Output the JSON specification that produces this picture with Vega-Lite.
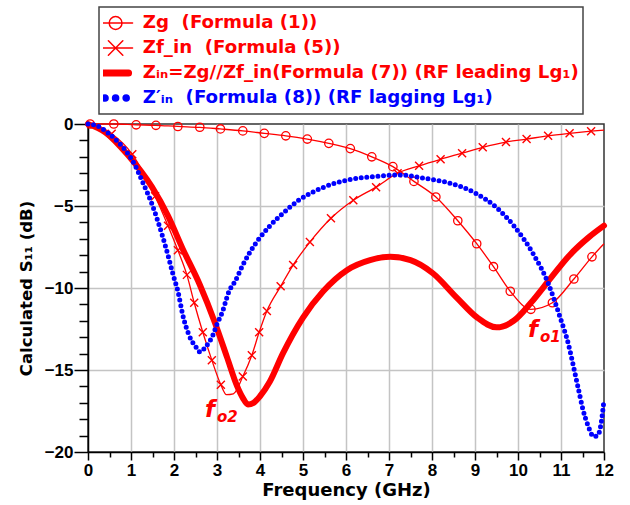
{
  "$schema": "https://vega.github.io/schema/vega-lite/v6.json",
  "width": 516,
  "height": 328,
  "autosize": {"type": "none"},
  "padding": {"left": 88, "top": 124, "right": 26, "bottom": 53},
  "background": "white",
  "config": {"view": {"stroke": "#333333", "strokeWidth": 1.5}},
  "datasets": {
    "curves": [
      {"s": "Zg", "f": 0.05, "db": 0, "m": 1},
      {"s": "Zg", "f": 0.6, "db": 0, "m": 1},
      {"s": "Zg", "f": 1.12, "db": -0.05, "m": 1},
      {"s": "Zg", "f": 1.58, "db": -0.08, "m": 1},
      {"s": "Zg", "f": 2.09, "db": -0.15, "m": 1},
      {"s": "Zg", "f": 2.6, "db": -0.2, "m": 1},
      {"s": "Zg", "f": 3.08, "db": -0.3, "m": 1},
      {"s": "Zg", "f": 3.6, "db": -0.42, "m": 1},
      {"s": "Zg", "f": 4.1, "db": -0.57, "m": 1},
      {"s": "Zg", "f": 4.6, "db": -0.72, "m": 1},
      {"s": "Zg", "f": 5.1, "db": -0.92, "m": 1},
      {"s": "Zg", "f": 5.6, "db": -1.18, "m": 1},
      {"s": "Zg", "f": 6.1, "db": -1.5, "m": 1},
      {"s": "Zg", "f": 6.6, "db": -2.0, "m": 1},
      {"s": "Zg", "f": 7.09, "db": -2.6, "m": 1},
      {"s": "Zg", "f": 7.58, "db": -3.5, "m": 1},
      {"s": "Zg", "f": 8.09, "db": -4.45, "m": 1},
      {"s": "Zg", "f": 8.6, "db": -5.9, "m": 1},
      {"s": "Zg", "f": 9.04, "db": -7.3, "m": 1},
      {"s": "Zg", "f": 9.43, "db": -8.7, "m": 1},
      {"s": "Zg", "f": 9.82, "db": -10.2, "m": 1},
      {"s": "Zg", "f": 10.3, "db": -11.3, "m": 1},
      {"s": "Zg", "f": 10.8, "db": -10.9, "m": 1},
      {"s": "Zg", "f": 11.3, "db": -9.45, "m": 1},
      {"s": "Zg", "f": 11.72, "db": -8.1, "m": 1},
      {"s": "Zg", "f": 12.0, "db": -7.3, "m": 0},
      {"s": "Zf", "f": 0.0, "db": 0, "m": 0},
      {"s": "Zf", "f": 0.55, "db": -0.6, "m": 1},
      {"s": "Zf", "f": 1.03, "db": -1.85, "m": 1},
      {"s": "Zf", "f": 1.56, "db": -4.4, "m": 1},
      {"s": "Zf", "f": 1.86, "db": -6.2, "m": 1},
      {"s": "Zf", "f": 2.09, "db": -7.7, "m": 1},
      {"s": "Zf", "f": 2.3, "db": -9.2, "m": 1},
      {"s": "Zf", "f": 2.47, "db": -10.9, "m": 1},
      {"s": "Zf", "f": 2.67, "db": -12.7, "m": 1},
      {"s": "Zf", "f": 2.88, "db": -14.4, "m": 1},
      {"s": "Zf", "f": 3.09, "db": -15.9, "m": 1},
      {"s": "Zf", "f": 3.22, "db": -16.5, "m": 0},
      {"s": "Zf", "f": 3.38, "db": -16.45, "m": 0},
      {"s": "Zf", "f": 3.6, "db": -15.4, "m": 1},
      {"s": "Zf", "f": 3.81, "db": -14.1, "m": 1},
      {"s": "Zf", "f": 3.98, "db": -12.7, "m": 1},
      {"s": "Zf", "f": 4.16, "db": -11.4, "m": 1},
      {"s": "Zf", "f": 4.48, "db": -9.9, "m": 1},
      {"s": "Zf", "f": 4.77, "db": -8.6, "m": 1},
      {"s": "Zf", "f": 5.16, "db": -7.2, "m": 1},
      {"s": "Zf", "f": 5.65, "db": -5.75, "m": 1},
      {"s": "Zf", "f": 6.17, "db": -4.65, "m": 1},
      {"s": "Zf", "f": 6.7, "db": -3.85, "m": 1},
      {"s": "Zf", "f": 7.2, "db": -3.0, "m": 1},
      {"s": "Zf", "f": 7.7, "db": -2.55, "m": 1},
      {"s": "Zf", "f": 8.2, "db": -2.15, "m": 1},
      {"s": "Zf", "f": 8.7, "db": -1.78, "m": 1},
      {"s": "Zf", "f": 9.18, "db": -1.42, "m": 1},
      {"s": "Zf", "f": 9.72, "db": -1.1, "m": 1},
      {"s": "Zf", "f": 10.2, "db": -0.92, "m": 1},
      {"s": "Zf", "f": 10.7, "db": -0.72, "m": 1},
      {"s": "Zf", "f": 11.2, "db": -0.57, "m": 1},
      {"s": "Zf", "f": 11.7, "db": -0.44, "m": 1},
      {"s": "Zf", "f": 12.0, "db": -0.37, "m": 0},
      {"s": "Zin", "f": 0.0, "db": 0, "m": 0},
      {"s": "Zin", "f": 0.4, "db": -0.5, "m": 0},
      {"s": "Zin", "f": 0.93, "db": -1.9, "m": 0},
      {"s": "Zin", "f": 1.49, "db": -3.85, "m": 0},
      {"s": "Zin", "f": 1.86, "db": -5.6, "m": 0},
      {"s": "Zin", "f": 2.2, "db": -7.6, "m": 0},
      {"s": "Zin", "f": 2.6, "db": -9.8, "m": 0},
      {"s": "Zin", "f": 2.95, "db": -12.1, "m": 0},
      {"s": "Zin", "f": 3.23, "db": -14.2, "m": 0},
      {"s": "Zin", "f": 3.47, "db": -16.0, "m": 0},
      {"s": "Zin", "f": 3.6, "db": -16.7, "m": 0},
      {"s": "Zin", "f": 3.72, "db": -17.1, "m": 0},
      {"s": "Zin", "f": 3.85, "db": -17.0, "m": 0},
      {"s": "Zin", "f": 4.0, "db": -16.6, "m": 0},
      {"s": "Zin", "f": 4.23, "db": -15.7, "m": 0},
      {"s": "Zin", "f": 4.53, "db": -14.0, "m": 0},
      {"s": "Zin", "f": 5.0, "db": -11.8, "m": 0},
      {"s": "Zin", "f": 5.47, "db": -10.2, "m": 0},
      {"s": "Zin", "f": 6.03, "db": -8.9, "m": 0},
      {"s": "Zin", "f": 6.56, "db": -8.3, "m": 0},
      {"s": "Zin", "f": 7.03, "db": -8.1, "m": 0},
      {"s": "Zin", "f": 7.5, "db": -8.3, "m": 0},
      {"s": "Zin", "f": 8.02, "db": -9.1, "m": 0},
      {"s": "Zin", "f": 8.58, "db": -10.6, "m": 0},
      {"s": "Zin", "f": 9.05, "db": -11.8, "m": 0},
      {"s": "Zin", "f": 9.5, "db": -12.4, "m": 0},
      {"s": "Zin", "f": 9.9, "db": -12.0, "m": 0},
      {"s": "Zin", "f": 10.3, "db": -10.9, "m": 0},
      {"s": "Zin", "f": 10.76, "db": -9.4, "m": 0},
      {"s": "Zin", "f": 11.2, "db": -8.0, "m": 0},
      {"s": "Zin", "f": 11.65, "db": -6.9, "m": 0},
      {"s": "Zin", "f": 12.0, "db": -6.2, "m": 0},
      {"s": "Zinp", "f": 0.0, "db": 0, "m": 0},
      {"s": "Zinp", "f": 0.16, "db": -0.06, "m": 0},
      {"s": "Zinp", "f": 0.47, "db": -0.55, "m": 0},
      {"s": "Zinp", "f": 0.7, "db": -1.1, "m": 0},
      {"s": "Zinp", "f": 0.9, "db": -1.7, "m": 0},
      {"s": "Zinp", "f": 1.09, "db": -2.5, "m": 0},
      {"s": "Zinp", "f": 1.28, "db": -3.6, "m": 0},
      {"s": "Zinp", "f": 1.49, "db": -4.9, "m": 0},
      {"s": "Zinp", "f": 1.67, "db": -6.3, "m": 0},
      {"s": "Zinp", "f": 1.86, "db": -8.0, "m": 0},
      {"s": "Zinp", "f": 1.98, "db": -9.2, "m": 0},
      {"s": "Zinp", "f": 2.1, "db": -10.3, "m": 0},
      {"s": "Zinp", "f": 2.2, "db": -11.6, "m": 0},
      {"s": "Zinp", "f": 2.37, "db": -13.0, "m": 0},
      {"s": "Zinp", "f": 2.51, "db": -13.6, "m": 0},
      {"s": "Zinp", "f": 2.6, "db": -13.9, "m": 0},
      {"s": "Zinp", "f": 2.7, "db": -13.7, "m": 0},
      {"s": "Zinp", "f": 2.79, "db": -13.4, "m": 0},
      {"s": "Zinp", "f": 2.9, "db": -12.9, "m": 0},
      {"s": "Zinp", "f": 3.0, "db": -12.2, "m": 0},
      {"s": "Zinp", "f": 3.12, "db": -11.5, "m": 0},
      {"s": "Zinp", "f": 3.28, "db": -10.2, "m": 0},
      {"s": "Zinp", "f": 3.42, "db": -9.6, "m": 0},
      {"s": "Zinp", "f": 3.6, "db": -8.6, "m": 0},
      {"s": "Zinp", "f": 3.77, "db": -7.8, "m": 0},
      {"s": "Zinp", "f": 4.2, "db": -6.3, "m": 0},
      {"s": "Zinp", "f": 4.51, "db": -5.5, "m": 0},
      {"s": "Zinp", "f": 4.9, "db": -4.65, "m": 0},
      {"s": "Zinp", "f": 5.44, "db": -3.9, "m": 0},
      {"s": "Zinp", "f": 6.07, "db": -3.4, "m": 0},
      {"s": "Zinp", "f": 6.7, "db": -3.2, "m": 0},
      {"s": "Zinp", "f": 7.2, "db": -3.1, "m": 0},
      {"s": "Zinp", "f": 7.8, "db": -3.3, "m": 0},
      {"s": "Zinp", "f": 8.4, "db": -3.6, "m": 0},
      {"s": "Zinp", "f": 9.0, "db": -4.2, "m": 0},
      {"s": "Zinp", "f": 9.5, "db": -5.1, "m": 0},
      {"s": "Zinp", "f": 9.9, "db": -6.2, "m": 0},
      {"s": "Zinp", "f": 10.35, "db": -7.9, "m": 0},
      {"s": "Zinp", "f": 10.7, "db": -9.7, "m": 0},
      {"s": "Zinp", "f": 10.98, "db": -11.8, "m": 0},
      {"s": "Zinp", "f": 11.17, "db": -13.4, "m": 0},
      {"s": "Zinp", "f": 11.3, "db": -14.9, "m": 0},
      {"s": "Zinp", "f": 11.4, "db": -16.1, "m": 0},
      {"s": "Zinp", "f": 11.51, "db": -17.4, "m": 0},
      {"s": "Zinp", "f": 11.63, "db": -18.4, "m": 0},
      {"s": "Zinp", "f": 11.76, "db": -19.05, "m": 0},
      {"s": "Zinp", "f": 11.85, "db": -19.0, "m": 0},
      {"s": "Zinp", "f": 11.93, "db": -18.3, "m": 0},
      {"s": "Zinp", "f": 12.0, "db": -16.8, "m": 0}
    ],
    "notes": [
      {"f": 2.72, "db": -17.87, "main": "f", "sub": "o2"},
      {"f": 10.23, "db": -12.99, "main": "f", "sub": "o1"}
    ]
  },
  "data": {"name": "curves"},
  "encoding": {
    "x": {
      "field": "f", "type": "quantitative",
      "scale": {"domain": [0, 12], "nice": false, "zero": false},
      "title": "Frequency (GHz)",
      "axis": {
        "values": [0, 0.5, 1, 1.5, 2, 2.5, 3, 3.5, 4, 4.5, 5, 5.5, 6, 6.5, 7, 7.5, 8, 8.5, 9, 9.5, 10, 10.5, 11, 11.5, 12],
        "labelExpr": "datum.value % 1 === 0 ? format(datum.value, 'd') : ''",
        "labelFont": "Liberation Sans", "labelFontSize": 17, "labelFontWeight": "bold", "labelColor": "black",
        "labelPadding": 2, "labelFlush": false, "labelOverlap": false,
        "tickColor": "black", "tickWidth": 1.5,
        "tickSize": {"condition": {"test": "datum.value % 1 === 0", "value": 8}, "value": 5},
        "domainColor": "black", "domainWidth": 1.5,
        "grid": true, "gridColor": "#c4c4c4", "gridWidth": 1.5,
        "gridOpacity": {"condition": {"test": "datum.value % 1 === 0 && datum.value > 0 && datum.value < 12", "value": 1}, "value": 0},
        "titleFont": "DejaVu Sans", "titleFontSize": 18, "titleFontWeight": "bold", "titleColor": "black", "titlePadding": 3
      }
    },
    "y": {
      "field": "db", "type": "quantitative",
      "scale": {"domain": [-20, 0], "nice": false, "zero": false},
      "title": "Calculated S₁₁ (dB)",
      "axis": {
        "values": [-20, -19, -18, -17, -16, -15, -14, -13, -12, -11, -10, -9, -8, -7, -6, -5, -4, -3, -2, -1, 0],
        "labelExpr": "datum.value % 5 === 0 ? format(datum.value, 'd') : ''",
        "labelFont": "Liberation Sans", "labelFontSize": 17, "labelFontWeight": "bold", "labelColor": "black",
        "labelPadding": 1, "labelFlush": false, "labelOverlap": false,
        "tickColor": "black", "tickWidth": 1.5,
        "tickSize": {"condition": {"test": "datum.value % 5 === 0", "value": 14}, "value": 9},
        "domainColor": "black", "domainWidth": 1.5,
        "grid": true, "gridColor": "#c4c4c4", "gridWidth": 1.5,
        "gridOpacity": {"condition": {"test": "datum.value % 5 === 0 && datum.value > -20 && datum.value < 0", "value": 1}, "value": 0},
        "titleFont": "DejaVu Sans", "titleFontSize": 16.5, "titleFontWeight": "bold", "titleColor": "black", "titlePadding": 10
      }
    }
  },
  "layer": [
    {
      "transform": [{"filter": "datum.s === 'Zin'"}],
      "mark": {"type": "line", "strokeWidth": 6, "interpolate": "monotone", "strokeCap": "round", "strokeJoin": "round"},
      "encoding": {
        "color": {
          "field": "s", "type": "nominal",
          "scale": {"domain": ["Zg", "Zf", "Zin", "Zinp"], "range": ["#ff0000", "#ff0000", "#ff0000", "#0000ff"]},
          "legend": {
            "orient": "none", "legendX": 11, "legendY": -117, "title": null, "direction": "vertical",
            "padding": 4, "fillColor": "white", "strokeColor": "#444444",
            "symbolSize": 1024, "symbolOffset": 3.5, "clipHeight": 24,
            "labelFont": "DejaVu Sans", "labelFontSize": 18.2, "labelFontWeight": "bold", "labelOffset": 18, "labelLimit": 700,
            "rowPadding": 1,
            "labelExpr": "datum.value === 'Zg' ? 'Zg\u00a0 (Formula (1))' : datum.value === 'Zf' ? 'Zf_in\u00a0 (Formula (5))' : datum.value === 'Zin' ? 'Zᵢₙ=Zg//Zf_in(Formula (7)) (RF leading Lg₁)' : 'Z′ᵢₙ\u00a0 (Formula (8)) (RF lagging Lg₁)'",
            "encode": {
              "symbols": {"update": {
                "shape": {"signal": "datum.value === 'Zg' ? 'M-1.06,0L1.06,0M0.4,0A0.4,0.4 0 1,1 -0.4,0A0.4,0.4 0 1,1 0.4,0' : datum.value === 'Zf' ? 'M-1.06,0L1.06,0M-0.45,-0.45L0.45,0.45M-0.45,0.45L0.45,-0.45' : datum.value === 'Zin' ? 'M-0.81,0L0.81,0' : 'M-0.47,0A0.19,0.19 0 1,1 -0.85,0A0.19,0.19 0 1,1 -0.47,0M0.19,0A0.19,0.19 0 1,1 -0.19,0A0.19,0.19 0 1,1 0.19,0M0.85,0A0.19,0.19 0 1,1 0.47,0A0.19,0.19 0 1,1 0.85,0'"},
                "fill": {"signal": "datum.value === 'Zinp' ? '#0000ff' : 'transparent'"},
                "stroke": {"signal": "datum.value === 'Zinp' ? 'transparent' : '#ff0000'"},
                "strokeWidth": {"signal": "datum.value === 'Zin' ? 7 : 1.5"},
                "strokeCap": {"value": "round"},
                "size": {"value": 1024}
              }},
              "labels": {"update": {"fill": {"signal": "datum.value === 'Zinp' ? '#0000ff' : '#ff0000'"}}},
              "legend": {"update": {"strokeWidth": {"value": 1.5}}}
            }
          }
        }
      }
    },
    {
      "transform": [{"filter": "datum.s === 'Zg'"}],
      "mark": {"type": "line", "strokeWidth": 1.3, "interpolate": "monotone"},
      "encoding": {"color": {"field": "s", "type": "nominal"}}
    },
    {
      "transform": [{"filter": "datum.s === 'Zg' && datum.m === 1"}],
      "mark": {"type": "point", "shape": "circle", "filled": false, "size": 70, "strokeWidth": 1.3, "color": "#ff0000", "opacity": 1}
    },
    {
      "transform": [{"filter": "datum.s === 'Zf'"}],
      "mark": {"type": "line", "strokeWidth": 1.3, "interpolate": "monotone"},
      "encoding": {"color": {"field": "s", "type": "nominal"}}
    },
    {
      "transform": [{"filter": "datum.s === 'Zf' && datum.m === 1"}],
      "mark": {"type": "point", "shape": "M-1,-1L1,1M-1,1L1,-1", "filled": false, "size": 64, "strokeWidth": 1.4, "color": "#ff0000", "opacity": 1}
    },
    {
      "transform": [{"filter": "datum.s === 'Zinp'"}],
      "mark": {"type": "line", "strokeWidth": 5, "interpolate": "monotone", "strokeCap": "round", "strokeDash": [0, 5.6]},
      "encoding": {"color": {"field": "s", "type": "nominal"}}
    },
    {
      "data": {"name": "notes"},
      "mark": {"type": "text", "align": "left", "baseline": "alphabetic", "font": "DejaVu Sans", "fontSize": 23, "fontWeight": "bold", "fontStyle": "italic", "color": "#ff0000"},
      "encoding": {"text": {"field": "main"}}
    },
    {
      "data": {"name": "notes"},
      "mark": {"type": "text", "align": "left", "baseline": "alphabetic", "font": "DejaVu Sans", "fontSize": 15, "fontWeight": "bold", "fontStyle": "italic", "color": "#ff0000", "dx": 12, "dy": 5},
      "encoding": {"text": {"field": "sub"}}
    }
  ]
}
